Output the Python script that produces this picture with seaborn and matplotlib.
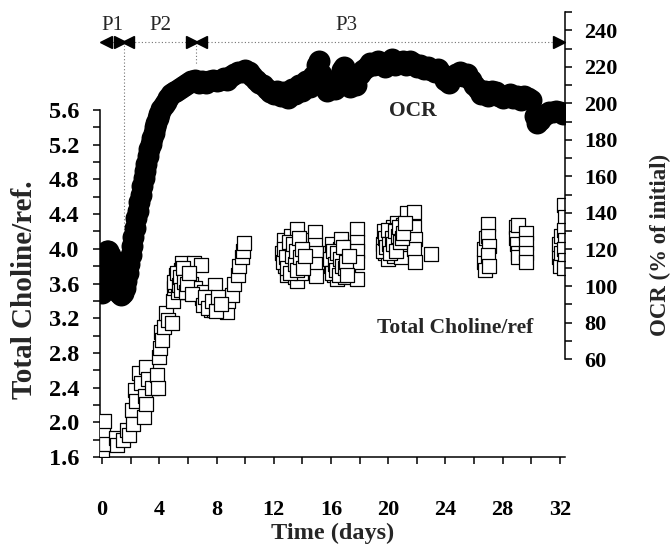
import matplotlib
matplotlib.use("Agg")
import matplotlib.pyplot as plt
import seaborn as sns
from matplotlib.ticker import FormatStrFormatter

# DATA
# ==========================================================================
# OCR (% of initial), right axis
ocr_days = [0.0, 0.05, 0.1, 0.15, 0.25, 0.35, 0.45, 0.55, 0.65, 0.75, 0.85, 0.95,
            1.05, 1.2, 1.35, 1.5, 1.6, 1.7, 1.8, 1.9, 2.0, 2.1, 2.2, 2.3, 2.4, 2.5,
            2.6, 2.7, 2.8, 2.9, 3.0, 3.1, 3.2, 3.3, 3.4, 3.5, 3.6, 3.7, 3.8, 3.9,
            4.0, 4.15, 4.3, 4.45, 4.6, 4.8, 5.0, 5.2, 5.4, 5.6, 5.8, 6.0, 6.25, 6.5,
            6.75, 7.0, 7.25, 7.5, 7.75, 8.0, 8.25, 8.5, 8.75, 9.0, 9.25, 9.5, 9.75,
            10.0, 10.25, 10.5, 10.75, 11.0, 11.25, 11.5, 11.75, 12.0, 12.25, 12.5,
            12.75, 13.0, 13.25, 13.5, 13.75, 14.0, 14.25, 14.5, 14.75, 15.0, 15.15,
            15.3, 15.5, 15.75, 16.0, 16.25, 16.5, 16.75, 16.9, 17.1, 17.3, 17.5,
            17.75, 18.0, 18.25, 18.5, 18.75, 19.0, 19.25, 19.5, 19.75, 20.0, 20.25,
            20.5, 20.75, 21.0, 21.25, 21.5, 21.75, 22.0, 22.25, 22.5, 22.75, 23.0,
            23.25, 23.5, 23.75, 24.0, 24.25, 24.5, 24.75, 25.0, 25.25, 25.5, 25.75,
            26.0, 26.25, 26.5, 26.75, 27.0, 27.25, 27.5, 27.75, 28.0, 28.25, 28.5,
            28.75, 29.0, 29.25, 29.5, 29.75, 30.0, 30.25, 30.4, 30.6, 30.8, 31.0,
            31.25, 31.5, 31.75, 32.0, 32.2]
ocr_vals = [96, 100, 106, 111, 116, 119, 119, 117, 113, 109, 105, 101,
            98, 96, 95, 96, 99, 103, 107, 112, 117, 122, 127, 132, 137, 141,
            146, 150, 155, 159, 163, 167, 171, 175, 178, 181, 184, 187, 189, 192,
            194, 197, 199, 201, 203, 205, 206, 207, 208, 209, 210, 211, 212, 213,
            211, 212, 211, 212, 213, 212, 213, 214, 213, 215, 216, 217, 217,
            218, 217, 215, 213, 211, 210, 208, 206, 205, 207, 204,
            206, 203, 208, 205, 210, 207, 212, 209, 215, 221, 223,
            216, 210, 207, 212, 208, 213, 218, 220, 214, 209, 212,
            210, 216, 218, 220, 222, 221, 223, 222, 220, 222, 224,
            221, 222, 223, 221, 223, 222, 220, 221, 219, 220, 218,
            217, 219, 216, 213, 211, 215, 216, 217, 215, 216, 213,
            210, 208, 205, 207, 204, 207, 206, 204, 203, 204, 205,
            203, 204, 202, 204, 203, 202, 193, 189, 191, 193, 194,
            195, 195, 196, 195, 194]

# Total Choline/ref., left axis
tcho_days = [0.0, 0.05, 0.1, 0.15, 0.3, 1.0, 1.05, 1.5, 1.75, 1.9,
             2.1, 2.15, 2.3, 2.4, 2.6, 2.7, 2.9, 3.0, 3.05, 3.1, 3.2, 3.5, 3.85, 3.9,
             4.0, 4.05, 4.1, 4.2, 4.3, 4.5, 4.6, 4.9, 4.95, 5.0, 5.1, 5.15, 5.3, 5.4,
             5.5, 5.6, 5.7, 5.8, 5.9, 6.0, 6.2, 6.4, 6.5, 6.9, 7.0, 7.1, 7.3, 7.5,
             7.6, 7.8, 7.9, 8.0, 8.2, 8.4, 8.7, 8.8, 9.1, 9.2, 9.5, 9.6, 9.8, 9.85, 9.9,
             5.05, 5.25, 5.35, 5.45, 5.55, 5.65, 5.75, 5.85, 5.95, 6.1, 6.3,
             7.05, 7.2, 7.4, 7.7, 7.95, 8.1, 8.3,
             12.6, 12.7, 12.8, 12.9, 13.0, 13.1, 13.2, 13.3, 13.4, 13.5, 13.6, 13.6,
             13.7, 13.8, 13.9, 14.0, 14.1, 14.2, 14.9, 14.9, 14.95, 14.9, 14.95,
             12.65, 12.75, 12.85, 12.95, 13.05, 13.15, 13.25, 13.35, 13.45, 13.55,
             13.65, 13.75, 13.85, 13.95, 14.05, 14.15,
             15.9, 16.0, 16.1, 16.2, 16.3, 16.4, 16.5, 16.6, 16.7, 16.8, 16.9, 17.0,
             17.1, 17.2, 17.3, 17.8, 17.8, 17.85, 17.8, 17.85,
             15.95, 16.05, 16.15, 16.25, 16.35, 16.45, 16.55, 16.65, 16.75, 16.85,
             16.95, 17.05, 17.15, 17.25,
             19.6, 19.7, 19.8, 19.9, 20.0, 20.1, 20.2, 20.3, 20.4, 20.5, 20.6, 20.7,
             20.8, 20.9, 21.0, 21.1, 21.3, 21.4, 21.8, 21.8, 21.85, 21.8, 21.85, 23.0,
             19.65, 19.75, 19.85, 19.95, 20.05, 20.15, 20.25, 20.35, 20.45, 20.55,
             20.65, 20.75, 20.85, 20.95, 21.05, 21.15,
             26.7, 26.7, 26.75, 26.8, 27.0, 27.0, 27.05, 27.0, 27.05,
             28.9, 28.95, 29.0, 29.05, 29.1, 29.1, 29.6, 29.6, 29.65, 29.6,
             31.9, 31.95, 32.0, 32.05, 32.1, 32.3, 32.35, 32.3, 32.35, 32.3, 32.35, 32.3]
tcho_vals = [1.68, 1.80, 1.88, 2.02, 1.75, 1.82, 1.74, 1.80, 1.91, 1.85,
             2.14, 1.98, 2.37, 2.25, 2.57, 2.45, 2.06, 2.30, 2.21, 2.64, 2.50, 2.40, 2.55, 2.40,
             2.75, 2.86, 3.04, 2.95, 3.10, 3.26, 3.18, 3.14, 3.40, 3.55, 3.58, 3.70, 3.50, 3.65,
             3.75, 3.84, 3.55, 3.64, 3.70, 3.50, 3.60, 3.84, 3.55, 3.81, 3.43, 3.50, 3.38, 3.45,
             3.30, 3.29, 3.58, 3.35, 3.42, 3.30, 3.27, 3.40, 3.47, 3.60, 3.70, 3.80, 3.90, 3.98, 4.07,
             3.62, 3.72, 3.58, 3.68, 3.52, 3.78, 3.62, 3.50, 3.60, 3.72, 3.48,
             3.35, 3.45, 3.32, 3.40, 3.28, 3.45, 3.36,
             3.95, 4.10, 3.80, 3.70, 4.00, 3.88, 4.15, 3.75, 3.95, 3.68, 4.23, 3.63,
             3.85, 4.05, 3.72, 3.95, 4.10, 3.80, 4.19, 4.04, 3.95, 3.83, 3.69,
             3.85, 4.00, 3.90, 3.78, 4.08, 3.72, 3.92, 4.05, 3.82, 3.98,
             3.75, 4.12, 3.90, 4.00, 3.78, 3.92,
             3.95, 3.80, 4.05, 3.70, 3.90, 3.65, 3.85, 4.00, 4.11, 3.75, 3.90, 3.68,
             3.95, 3.80, 4.02, 4.23, 4.08, 3.97, 3.85, 3.65,
             3.88, 3.72, 3.98, 3.82, 3.75, 3.95, 3.70, 3.88, 3.80, 4.02,
             3.78, 3.85, 3.70, 3.92,
             4.05, 4.20, 3.95, 4.10, 3.88, 4.15, 4.00, 4.25, 3.92, 4.10, 4.30, 4.02,
             4.18, 3.90, 4.28, 4.05, 4.41, 4.15, 4.42, 4.25, 4.11, 4.00, 3.85, 3.94,
             3.98, 4.12, 4.02, 4.22, 4.05, 3.95, 4.12, 4.05, 4.20, 3.98,
             4.15, 4.25, 4.08, 4.12, 4.18, 4.30,
             3.85, 4.00, 3.75, 4.12, 4.29, 4.15, 4.03, 3.93, 3.80,
             4.25, 4.12, 4.05, 3.95, 4.27, 3.90, 4.18, 4.07, 3.95, 3.85,
             3.90, 4.05, 3.80, 4.15, 3.95, 4.50, 4.37, 4.22, 4.10, 4.00, 3.87, 3.78]

x_ticks = [0, 4, 8, 12, 16, 20, 24, 28, 32]
x_minor = [2, 6, 10, 14, 18, 22, 26, 30]
left_ticks = [1.6, 2.0, 2.4, 2.8, 3.2, 3.6, 4.0, 4.4, 4.8, 5.2, 5.6]
left_minor = [1.8, 2.2, 2.6, 3.0, 3.4, 3.8, 4.2, 4.6, 5.0, 5.4]
right_ticks = [60, 80, 100, 120, 140, 160, 180, 200, 220, 240]
right_minor = [70, 90, 110, 130, 150, 170, 190, 210, 230, 250]

phase_names = ['P1', 'P2', 'P3']
phase_edges = [0.0, 1.55, 6.6, 32.2]
phase_label_x = [0.7, 4.05, 17.1]

# PLOT
# ==========================================================================
sns.set_style('white')
plt.rcParams['font.family'] = ['Liberation Serif', 'DejaVu Serif']
plt.rcParams['font.weight'] = 'bold'

fig = plt.figure(figsize=(6.72, 5.47), dpi=100)
ax = fig.add_axes([100 / 672, 90 / 547, 465 / 672, 445 / 547])
ax2 = ax.twinx()

sns.scatterplot(x=tcho_days, y=tcho_vals, ax=ax, marker='s', s=100,
                color='white', edgecolor='black', linewidth=0.9, zorder=3)
sns.scatterplot(x=ocr_days, y=ocr_vals, ax=ax2, marker='o', s=250,
                color='black', linewidth=0, zorder=3)

ax.set_xlim(-0.14, 32.35)
ax.set_ylim(1.6, 6.73)
ax2.set_ylim(6.4, 249.8)

ax.set_xticks(x_ticks)
ax.set_xticks(x_minor, minor=True)
ax.set_yticks(left_ticks)
ax.set_yticks(left_minor, minor=True)
ax.yaxis.set_major_formatter(FormatStrFormatter('%.1f'))
ax2.set_yticks(right_ticks)
ax2.set_yticks(right_minor, minor=True)

for s in ['top', 'right']:
    ax.spines[s].set_visible(False)
for s in ['top', 'left', 'bottom']:
    ax2.spines[s].set_visible(False)
ax.spines['left'].set_bounds(1.6, 5.6)
ax2.spines['right'].set_bounds(60, 250)
for sp in [ax.spines['left'], ax.spines['bottom'], ax2.spines['right']]:
    sp.set_color('black')
    sp.set_linewidth(1.1)

ax.tick_params(axis='x', which='both', direction='out', length=5, width=1.1,
               bottom=True, pad=26, labelsize=16, colors='black')
ax.tick_params(axis='y', which='both', direction='out', length=5, width=1.1,
               left=True, pad=10, labelsize=17.5, colors='black')
ax2.tick_params(axis='y', which='both', direction='out', length=5, width=1.1,
                right=True, pad=9, labelsize=16, colors='black')

ax.set_xlabel('Time (days)', fontsize=17.5, fontweight='bold', labelpad=2)
ax.set_ylabel('Total Choline/ref.', fontsize=21, fontweight='bold')
ax.yaxis.set_label_coords(-0.133, 0.375)
ax2.set_ylabel('OCR (% of initial)', fontsize=16.5, fontweight='bold')
ax2.yaxis.set_label_coords(1.183, 0.476)

ax2.text(21.7, 196, 'OCR', ha='center', va='center', fontsize=15.5, fontweight='bold')
ax.text(24.67, 3.09, 'Total Choline/ref', ha='center', va='center',
        fontsize=15.5, fontweight='bold')

# phase arrows along the top
arrow_y = 233.4
for i, name in enumerate(phase_names):
    a, b = phase_edges[i], phase_edges[i + 1]
    ax2.plot([a + 0.3, b - 0.3], [arrow_y, arrow_y], ls=(0, (1, 2)), lw=0.8,
             color='0.45', clip_on=False)
    ax2.plot([a + 0.3], [arrow_y], marker='<', ms=8, color='black', clip_on=False)
    ax2.plot([b - 0.3], [arrow_y], marker='>', ms=8, color='black', clip_on=False)
    ax2.text(phase_label_x[i], 242.5, name, ha='center', va='center',
             fontsize=15, fontweight='normal', clip_on=False)
ax2.plot([phase_edges[1], phase_edges[1]], [arrow_y, 129], ls=(0, (1, 2)),
         lw=0.8, color='0.45', zorder=1)
ax2.plot([phase_edges[2], phase_edges[2]], [arrow_y, 221], ls=(0, (1, 2)),
         lw=0.8, color='0.45', zorder=1)

plt.savefig('out.png', dpi=100)
